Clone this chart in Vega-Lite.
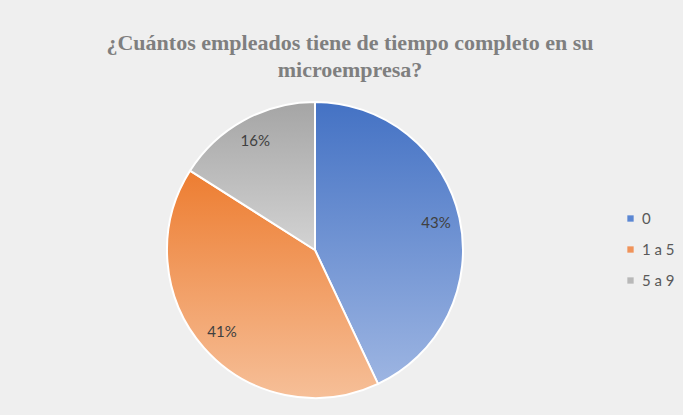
{
  "$schema": "https://vega.github.io/schema/vega-lite/v6.json",
  "autosize": {"type": "none"},
  "width": 296,
  "height": 296,
  "padding": {"left": 167, "top": 102, "right": 220, "bottom": 17},
  "background": "#efefef",
  "config": {"view": {"stroke": null}},
  "title": {
    "text": ["¿Cuántos empleados tiene de tiempo completo en su", "microempresa?"],
    "font": "Liberation Serif",
    "fontSize": 22,
    "fontWeight": "bold",
    "color": "#7f7f7f",
    "lineHeight": 27,
    "anchor": "middle",
    "dx": 35,
    "offset": 16
  },
  "data": {
    "values": [
      {"categoria": "0", "valor": 43, "orden": 1, "etiqueta": "43%"},
      {"categoria": "1 a 5", "valor": 41, "orden": 2, "etiqueta": "41%"},
      {"categoria": "5 a 9", "valor": 16, "orden": 3, "etiqueta": "16%"}
    ]
  },
  "layer": [
    {
      "mark": {"type": "arc", "radius": 0},
      "encoding": {
        "theta": {"field": "valor", "type": "quantitative", "stack": true, "scale": {"domain": [0, 100]}},
        "order": {"field": "orden", "type": "quantitative"},
        "color": {
          "field": "categoria",
          "type": "nominal",
          "scale": {"domain": ["0", "1 a 5", "5 a 9"], "range": ["#5b87d3", "#f0935a", "#b8b8b8"]},
          "legend": {
            "title": null,
            "orient": "none",
            "legendX": 456,
            "legendY": 109,
            "symbolType": "square",
            "symbolSize": 40,
            "symbolStrokeWidth": 0,
            "labelFont": "Lato",
            "labelFontSize": 15,
            "labelColor": "#595959",
            "labelOffset": 4,
            "rowPadding": 15
          }
        }
      }
    },
    {
      "transform": [
        {"stack": "valor", "groupby": [], "sort": [{"field": "orden", "order": "ascending"}], "as": ["v0", "v1"]},
        {"filter": "datum.categoria === '0'"}
      ],
      "mark": {
        "type": "arc",
        "stroke": "white",
        "strokeWidth": 2,
        "color": {"gradient": "linear", "x1": 0, "y1": 0, "x2": 0, "y2": 1,
          "stops": [{"offset": 0, "color": "#4472c4"}, {"offset": 1, "color": "#9db5e2"}]}
      },
      "encoding": {
        "theta": {"field": "v0", "type": "quantitative", "scale": {"domain": [0, 100]}},
        "theta2": {"field": "v1"}
      }
    },
    {
      "transform": [
        {"stack": "valor", "groupby": [], "sort": [{"field": "orden", "order": "ascending"}], "as": ["v0", "v1"]},
        {"filter": "datum.categoria === '1 a 5'"}
      ],
      "mark": {
        "type": "arc",
        "stroke": "white",
        "strokeWidth": 2,
        "color": {"gradient": "linear", "x1": 0, "y1": 0, "x2": 0, "y2": 1,
          "stops": [{"offset": 0, "color": "#ed7d31"}, {"offset": 1, "color": "#f6bf98"}]}
      },
      "encoding": {
        "theta": {"field": "v0", "type": "quantitative", "scale": {"domain": [0, 100]}},
        "theta2": {"field": "v1"}
      }
    },
    {
      "transform": [
        {"stack": "valor", "groupby": [], "sort": [{"field": "orden", "order": "ascending"}], "as": ["v0", "v1"]},
        {"filter": "datum.categoria === '5 a 9'"}
      ],
      "mark": {
        "type": "arc",
        "stroke": "white",
        "strokeWidth": 2,
        "color": {"gradient": "linear", "x1": 0, "y1": 0, "x2": 0, "y2": 1,
          "stops": [{"offset": 0, "color": "#a5a5a5"}, {"offset": 1, "color": "#d3d3d3"}]}
      },
      "encoding": {
        "theta": {"field": "v0", "type": "quantitative", "scale": {"domain": [0, 100]}},
        "theta2": {"field": "v1"}
      }
    },
    {
      "mark": {"type": "text", "radius": 124, "font": "Lato", "fontSize": 15, "color": "#404040"},
      "encoding": {
        "theta": {"field": "valor", "type": "quantitative", "stack": true, "scale": {"domain": [0, 100]}},
        "order": {"field": "orden", "type": "quantitative"},
        "text": {"field": "etiqueta", "type": "nominal"}
      }
    }
  ]
}
